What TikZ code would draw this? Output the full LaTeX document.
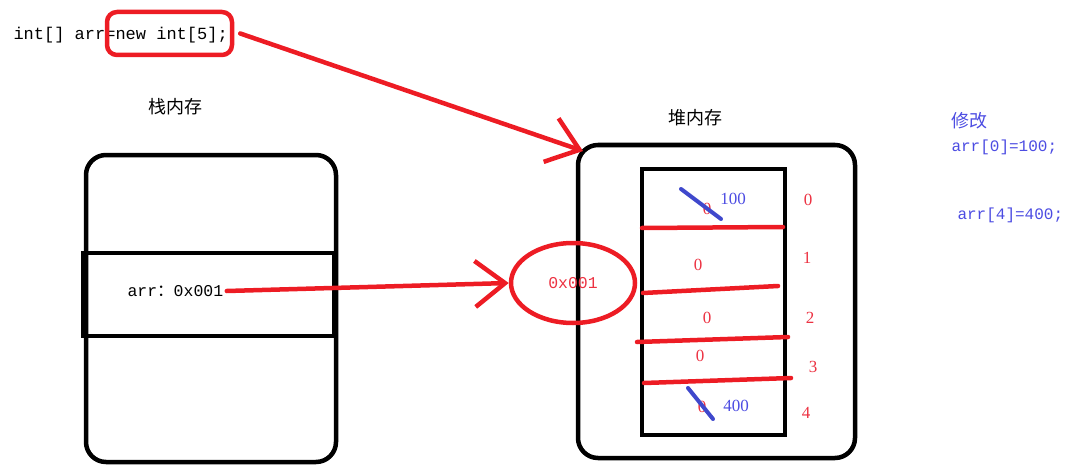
\documentclass[tikz,border=0pt]{standalone}
\usepackage{fontspec}
\setmainfont{Liberation Serif}
\setmonofont{Liberation Mono}
\newfontfamily\cjk{Noto Sans CJK SC}
\usetikzlibrary{arrows.meta,shapes.geometric}
\definecolor{paintred}{RGB}{237,28,36}
\definecolor{slashblue}{RGB}{63,72,204}
\definecolor{txtblue}{RGB}{76,76,226}
\definecolor{txtred}{RGB}{236,50,66}

\begin{document}
\begin{tikzpicture}[x=1pt,y=-1pt,
    box/.style={draw=black,line width=4.5pt,rounded corners=20pt},
    cellbox/.style={draw=black,line width=4.5pt},
    redline/.style={draw=paintred,line width=4.5pt,line cap=round},
    bluestroke/.style={draw=slashblue,line width=4pt,line cap=round},
    ptr/.style={redline,-{Straight Barb[length=30pt,width=46pt]}},
    code/.style={font=\ttfamily\fontsize{16}{19}\selectfont},
    zh/.style={font=\cjk\fontsize{18}{21}\selectfont},
    num/.style={text=txtred,font=\fontsize{17}{20}\selectfont},
  ]
  \useasboundingbox (0,0) rectangle (1073,476);

  % code line
  \node[code,anchor=west,font=\ttfamily\fontsize{17}{20}\selectfont] (decl) at (10,35) {int[] arr=new int[5];};
  \node[draw=paintred,line width=4.5pt,rounded corners=10pt,
        minimum width=125pt,minimum height=43pt] (newbox) at (169.5,33.5) {};

  % stack
  \node[zh] (stacklbl) at (175,107) {栈内存};
  \node[box,minimum width=250pt,minimum height=307pt] (stack) at (211,308.5) {};
  \node[cellbox,minimum width=251pt,minimum height=83pt] (frame) at (208.5,294.5) {};
  \node[code,font=\ttfamily\fontsize{16.5}{19}\selectfont,anchor=west] (val) at (124,291) {arr{\cjk ：}0x001};

  % heap
  \node[zh] (heaplbl) at (695,118) {堆内存};
  \node[box,minimum width=277pt,minimum height=313pt] (heap) at (716.5,301.5) {};
  \node[cellbox,minimum width=143pt,minimum height=266pt] (arr) at (713.5,302) {};
  \node[ellipse,draw=paintred,line width=4.5pt,minimum width=124pt,minimum height=80pt,
        text=txtred,font=\ttfamily\fontsize{16.5}{19}\selectfont] (addr) at (573,283) {0x001};
  \coordinate (heapcorner) at (583,151);

  \draw[redline] (642,228) -- (783,227);
  \draw[redline] (643,293) -- (778,286);
  \draw[redline] (637,342) -- (788,337);
  \draw[redline] (644,383) -- (791,378);

  \foreach \i/\x/\y in {0/707/209,1/698/265,2/707/318,3/700/356,4/702/407}
    \node[num] (v\i) at (\x,\y) {0};
  \foreach \i/\x/\y in {0/808/200,1/807/258,2/810/318,3/813/367,4/806/413}
    \node[num] (idx\i) at (\x,\y) {\i};

  \draw[bluestroke] (681,189) -- (721,219);
  \draw[bluestroke] (688,388) -- (713,419);
  \node[num,text=txtblue] (new0) at (733,199) {100};
  \node[num,text=txtblue] (new4) at (736,406) {400};

  % pointers
  \draw[ptr] ([xshift=6pt]newbox.east) -- (heapcorner);
  \draw[ptr] (val.east) -- (addr.west);

  % note
  \node[zh,text=txtblue,anchor=west] (note) at (948,121) {修改};
  \node[code,text=txtblue,anchor=west] (set0) at (948,147) {arr[0]=100;};
  \node[code,text=txtblue,anchor=west] (set4) at (954,215) {arr[4]=400;};
\end{tikzpicture}
\end{document}
